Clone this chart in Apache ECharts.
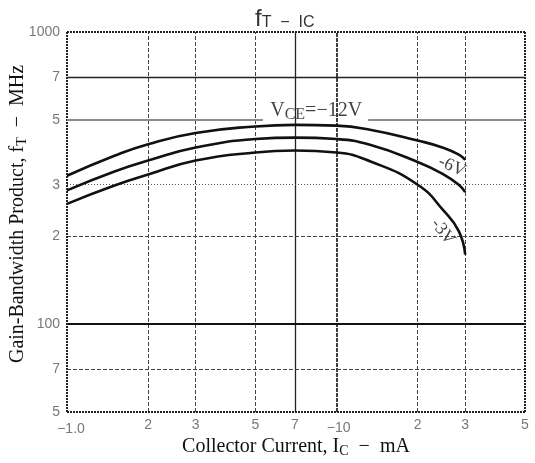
<!DOCTYPE html>
<html>
<head>
<meta charset="utf-8">
<script src="https://cdn.jsdelivr.net/npm/echarts@6/dist/echarts.min.js"></script>
<style>html,body{margin:0;padding:0;background:#fff;}#c{width:535px;height:463px;}</style>
</head>
<body>
<div id="c"></div>
<script>
// ---- data ----
const currentMA = [1, 1.5, 2, 3, 5, 7, 10, 13.3, 20, 25, 28.4, 30];
const fT_vce12 = [322, 377, 413, 451, 475, 481, 478, 463, 425, 401, 380, 365];
const fT_vce6  = [287, 333, 363, 402, 430, 435, 430, 411, 359, 325, 300, 283];
const fT_vce3  = [258, 298, 325, 363, 387, 393, 387, 361, 300, 244, 208, 173];

const xTickValues = [1, 2, 3, 5, 7, 10, 20, 30, 50];
const xTickLabels = ['−1.0', '2', '3', '5', '7', '−10', '2', '3', '5'];
const yTickValues = [50, 70, 100, 200, 300, 500, 700, 1000];
const yTickLabels = ['5', '7', '100', '2', '3', '5', '7', '1000'];

const xGridValues = [2, 3, 5, 7, 10, 20, 30];
const yGridValues = [70, 100, 200, 300, 700];
const xMin = 1, xMax = 50, yMin = 50, yMax = 1000;
const ref500 = 500;
const ref500Gap = [5.33, 13.1];

const curveLabels = [
  { name: 'vce12', pos: [8.4, 537], text: 'V{sub|CE}=−12V', rot: 0 },
  { name: 'vce6', pos: [26.8, 346], text: '-6V', rot: -25 },
  { name: 'vce3', pos: [24.8, 207], text: '-3V', rot: -52 }
];

// ---- styles ----
const serif = '"Liberation Serif", "DejaVu Serif", serif';
const sans = '"Liberation Sans", "DejaVu Sans", sans-serif';
function vStyle(v) {
  if (v === 7) return { color: '#222', width: 1.3, type: 'solid' };
  if (v === 10) return { color: '#111', width: 1.6, type: [4, 1] };
  return { color: '#444', width: 1, type: [4, 2] };
}
function hStyle(v) {
  if (v === 100) return { color: '#111', width: 2, type: 'solid' };
  if (v === 700) return { color: '#222', width: 1.3, type: 'solid' };
  if (v === 300) return { color: '#555', width: 1, type: [1, 2] };
  return { color: '#444', width: 1, type: [4, 2] };
}
const borderStyle = { color: '#222', width: 2, type: [2, 1] };

const markData = [];
xGridValues.forEach(v => markData.push({ xAxis: v, lineStyle: vStyle(v) }));
yGridValues.forEach(v => markData.push({ yAxis: v, lineStyle: hStyle(v) }));
markData.push({ xAxis: xMin, lineStyle: borderStyle });
markData.push({ xAxis: xMax, lineStyle: borderStyle });
markData.push({ yAxis: yMin, lineStyle: borderStyle });
markData.push({ yAxis: yMax, lineStyle: borderStyle });
const grayStyle = { color: '#8c8c8c', width: 2.2, type: 'solid' };
markData.push([{ coord: [xMin, ref500], lineStyle: grayStyle }, { coord: [ref500Gap[0], ref500] }]);
markData.push([{ coord: [ref500Gap[1], ref500], lineStyle: grayStyle }, { coord: [xMax, ref500] }]);

function pairs(ys) { return currentMA.map((x, i) => [x, ys[i]]); }
const curveStyle = { color: '#111', width: 2.6 };

const xLabelOffsets = { 0: [4, 4], 5: [2, 3] };
const subStyle = { fontFamily: serif, fontSize: 14, color: '#111', padding: [8, 0, 0, 0] };

const option = {
  animation: false,
  backgroundColor: '#fff',
  title: {
    text: '{f|f}{s|T}{s|  −  I}{s|C}',
    left: 250, top: 2,
    textStyle: {
      fontWeight: 'normal',
      rich: {
        f: { fontFamily: sans, fontSize: 24, fontWeight: 'normal', color: '#333', verticalAlign: 'bottom' },
        s: { fontFamily: sans, fontSize: 16, fontWeight: 'normal', color: '#333', verticalAlign: 'bottom' }
      }
    }
  },
  grid: { left: 67, right: 10, top: 32, bottom: 50 },
  xAxis: {
    type: 'log', logBase: 10, min: xMin, max: xMax,
    axisLine: { show: false }, axisTick: { show: false }, axisLabel: { show: false }, splitLine: { show: false },
    name: 'Collector Current, I{sub|C}  −  mA',
    nameLocation: 'middle', nameGap: 24,
    nameTextStyle: { fontFamily: serif, fontSize: 20, color: '#111', rich: { sub: subStyle } }
  },
  yAxis: {
    type: 'log', logBase: 10, min: yMin, max: yMax,
    axisLine: { show: false }, axisTick: { show: false }, axisLabel: { show: false }, splitLine: { show: false },
    name: 'Gain-Bandwidth Product, f{sub|T}  −  MHz',
    nameLocation: 'middle', nameGap: 38,
    nameTextStyle: { fontFamily: serif, fontSize: 20, color: '#111', padding: [0, 0, 0, 16], rich: { sub: subStyle } }
  },
  series: [
    {
      name: 'grid', type: 'line', data: [], silent: true,
      markLine: { silent: true, symbol: ['none', 'none'], label: { show: false }, animation: false, data: markData }
    },
    { name: 'VCE=-12V', type: 'line', smooth: 0.5, symbol: 'none', lineStyle: curveStyle, data: pairs(fT_vce12), z: 5 },
    { name: 'VCE=-6V', type: 'line', smooth: 0.5, symbol: 'none', lineStyle: curveStyle, data: pairs(fT_vce6), z: 5 },
    { name: 'VCE=-3V', type: 'line', smooth: 0.5, symbol: 'none', lineStyle: curveStyle, data: pairs(fT_vce3), z: 5 },
    {
      name: 'xTicks', type: 'scatter', symbolSize: 0, silent: true, clip: false,
      data: xTickValues.map((v, i) => ({
        value: [v, yMin],
        label: { offset: xLabelOffsets[i] || [0, 0] }
      })),
      label: {
        show: true, position: 'bottom', distance: 6,
        fontFamily: sans, fontSize: 14, color: '#555',
        formatter: p => xTickLabels[p.dataIndex]
      }
    },
    {
      name: 'yTicks', type: 'scatter', symbolSize: 0, silent: true, clip: false,
      data: yTickValues.map(v => [xMin, v]),
      label: {
        show: true, position: 'left', distance: 7,
        fontFamily: sans, fontSize: 14, color: '#555',
        formatter: p => yTickLabels[p.dataIndex]
      }
    },
    {
      name: 'curveLabels', type: 'scatter', symbolSize: 0, silent: true, clip: false,
      data: curveLabels.map((c, i) => ({
        value: c.pos,
        label: { rotate: c.rot, fontSize: i === 0 ? 20 : 18 }
      })),
      label: {
        show: true, position: 'inside',
        fontFamily: serif, fontSize: 18, color: '#111',
        formatter: p => curveLabels[p.dataIndex].text,
        rich: { sub: { fontFamily: serif, fontSize: 16, color: '#111', padding: [7, 0, 0, 0] } }
      }
    }
  ]
};

const chart = echarts.init(document.getElementById('c'), null, { renderer: 'canvas' });
chart.setOption(option);
</script>
</body>
</html>
